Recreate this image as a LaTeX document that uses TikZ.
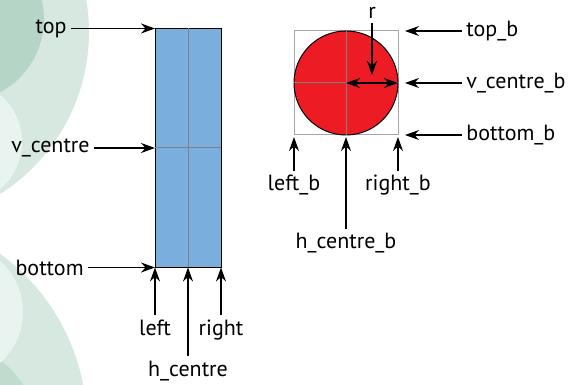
\documentclass[tikz,border=0pt]{standalone}
\usepackage{fontspec}
\setmainfont{PT Sans}
\usetikzlibrary{arrows.meta,positioning}
\definecolor{barblue}{RGB}{122,174,221}
\definecolor{ballred}{RGB}{237,28,36}
\definecolor{leafpale}{RGB}{214,232,224}
\definecolor{leafdark}{RGB}{181,213,198}
\definecolor{leafmist}{RGB}{233,244,240}
\definecolor{leafmid}{RGB}{192,220,207}

\begin{document}
\begin{tikzpicture}[x=0.5pt,y=-0.5pt,
  >={Stealth[length=7pt,width=5pt]},
  bar/.style={rectangle,draw,fill=barblue,line width=0.5pt,minimum width=33pt,minimum height=119.5pt,inner sep=0pt,outer sep=0pt},
  frame/.style={rectangle,draw=gray!70,line width=0.5pt,minimum size=52pt,inner sep=0pt,outer sep=0pt},
  ball/.style={circle,draw,fill=ballred,line width=0.5pt,minimum size=52pt,inner sep=0pt,outer sep=0pt},
  guide/.style={draw=gray,line width=0.5pt},
  tag/.style={font=\fontsize{11}{13}\selectfont,inner sep=2pt},
  edge/.style={->,line width=0.6pt},
  gap/.style={shorten >=3.5pt}]
\useasboundingbox (0,0) rectangle (569,385);
% leaves in the background
\begin{scope}
\clip (0,0) rectangle (569,385);
\fill[leafpale] (-103,32) circle[radius=192];
\fill[leafpale] (-125,425) circle[radius=212];
\fill[leafdark] (-39,19) circle[radius=83];
\fill[leafmid] (-60,440) circle[radius=100];
\fill[leafmist] (-40,142) circle[radius=62];
\fill[leafmist] (-45,312) circle[radius=68];
\end{scope}

% the bar
\node[bar] (rect) at (188,148) {};
\draw[guide] (rect.north) -- (rect.south);
\draw[guide] (rect.west) -- (rect.east);
\node[tag,left=42pt of rect.north west] (top) {top};
\node[tag,left=30.5pt of rect.west] (vcentre) {v\_centre};
\node[tag,left=33.5pt of rect.south west] (bottom) {bottom};
\node[tag,below=24pt of rect.south west] (left) {left};
\node[tag,below=44.5pt of rect.south] (hcentre) {h\_centre};
\node[tag,below=24pt of rect.south east] (right) {right};
\draw[edge] (top) -- (rect.north west);
\draw[edge] (vcentre) -- (rect.west);
\draw[edge] (bottom) -- (rect.south west);
\draw[edge] (left) -- (rect.south west);
\draw[edge] (hcentre) -- (rect.south);
\draw[edge] (right) -- (rect.south east);

% the ball and its box
\node[frame] (box) at (346,83) {};
\node[ball] (ball) at (box) {};
\draw[guide] (box.north) -- (box.south);
\draw[guide] (box.west) -- (box.east);
\node[tag,right=32pt of box.north east] (topb) {top\_b};
\node[tag,right=32pt of box.east] (vcentreb) {v\_centre\_b};
\node[tag,right=32pt of box.south east] (bottomb) {bottom\_b};
\node[tag,below=18pt of box.south west] (leftb) {left\_b};
\node[tag,below=47pt of box.south] (hcentreb) {h\_centre\_b};
\node[tag,below=18pt of box.south east] (rightb) {right\_b};
\coordinate (rtip) at (372,75);
\node[tag,above=26pt of rtip] (r) {r};
\draw[edge,gap] (topb) -- (box.north east);
\draw[edge,gap] (vcentreb) -- (box.east);
\draw[edge,gap] (bottomb) -- (box.south east);
\draw[edge,shorten >=1pt] (leftb) -- (box.south west);
\draw[edge,shorten >=1pt] (hcentreb) -- (box.south);
\draw[edge,shorten >=1pt] (rightb) -- (box.south east);
\draw[edge] (r) -- (rtip);
\draw[edge,<->] (ball.center) -- (ball.east);
\end{tikzpicture}
\end{document}
